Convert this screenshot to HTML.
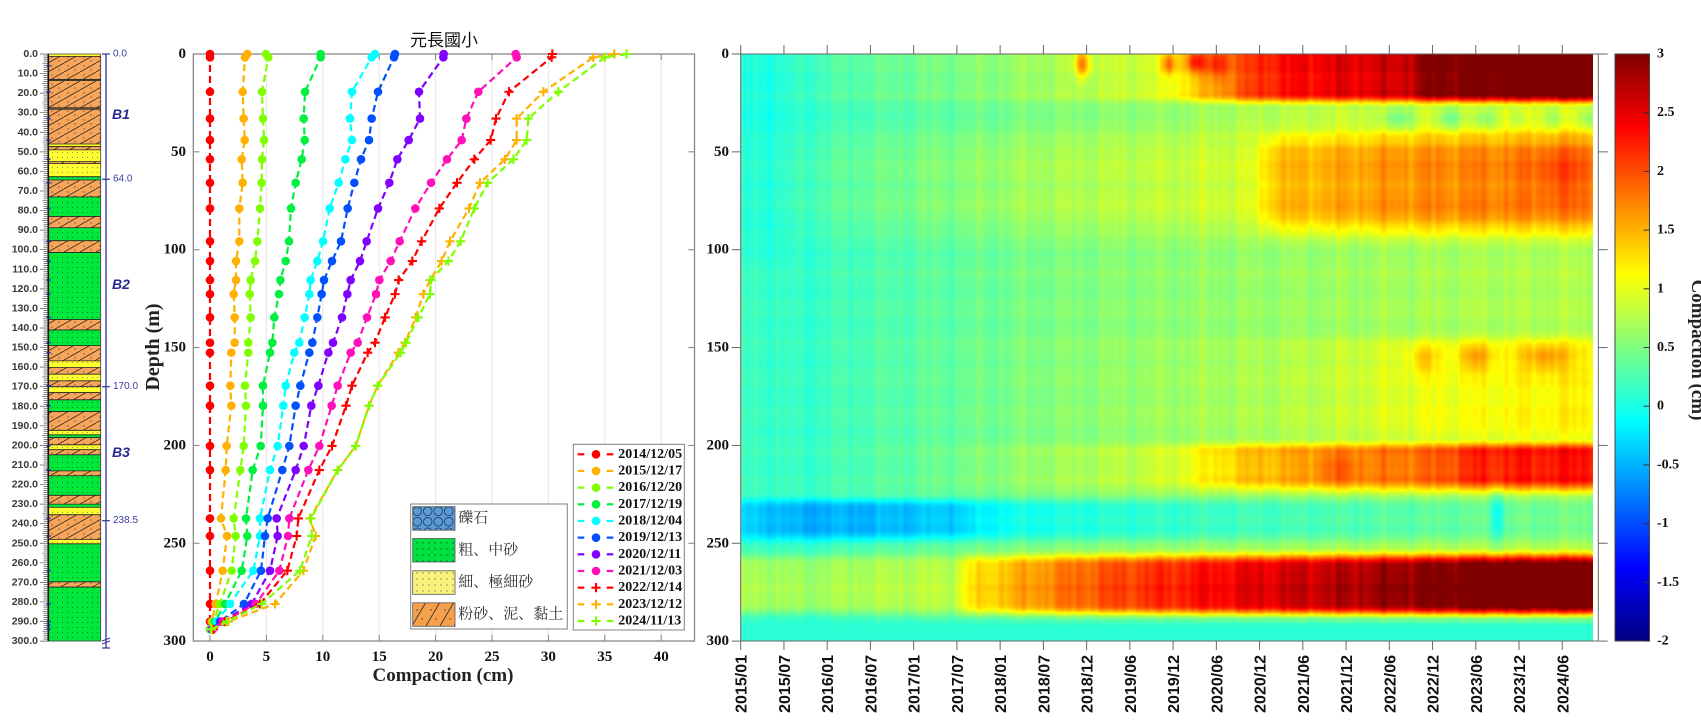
<!DOCTYPE html>
<html><head><meta charset="utf-8">
<style>
html,body{margin:0;padding:0;background:#fff;}
#wrap{position:relative;width:1701px;height:720px;overflow:hidden;background:#fff;}
#hm{position:absolute;left:741px;top:54px;width:852px;height:587px;}
#s{position:absolute;left:0;top:0;}
</style></head><body>
<div id="wrap">
<canvas id="hm" width="852" height="587"></canvas>
<svg id="s" width="1701" height="720" xmlns="http://www.w3.org/2000/svg">
<defs>
<pattern id="pS" patternUnits="userSpaceOnUse" width="16" height="9"><rect width="16" height="9" fill="#f7a55b"/><path d="M0,9 L16,0" stroke="#3b2a1a" stroke-width="0.8"/><circle cx="4" cy="3" r="0.6" fill="#333"/><circle cx="11" cy="7" r="0.6" fill="#333"/></pattern>
<pattern id="pG" patternUnits="userSpaceOnUse" width="5" height="5"><rect width="5" height="5" fill="#00e83c"/><circle cx="2.5" cy="2.5" r="0.55" fill="#064"/></pattern>
<pattern id="pY" patternUnits="userSpaceOnUse" width="5" height="5"><rect width="5" height="5" fill="#ffff30"/><circle cx="2.5" cy="2.5" r="0.55" fill="#775"/></pattern>
<pattern id="pO" patternUnits="userSpaceOnUse" width="5" height="5"><rect width="5" height="5" fill="#8d7b3c"/></pattern>
<pattern id="lS" patternUnits="userSpaceOnUse" width="14" height="24" x="412" y="602"><rect width="14" height="24" fill="#f7a04c"/><path d="M0,24 L14,0" stroke="#333" stroke-width="0.9"/><circle cx="5" cy="8" r="0.7" fill="#333"/><circle cx="10" cy="17" r="0.7" fill="#333"/></pattern>
<pattern id="lG" patternUnits="userSpaceOnUse" width="6" height="6"><rect width="6" height="6" fill="#00e040"/><circle cx="3" cy="3" r="0.7" fill="#063"/></pattern>
<pattern id="lY" patternUnits="userSpaceOnUse" width="6" height="6"><rect width="6" height="6" fill="#f8f27a"/><circle cx="3" cy="3" r="0.6" fill="#555"/></pattern>
<pattern id="lB" patternUnits="userSpaceOnUse" width="10.5" height="10.5" x="412" y="506"><rect width="10.5" height="10.5" fill="#5b9bd5"/><circle cx="5.25" cy="5.25" r="4.3" fill="none" stroke="#223a5a" stroke-width="0.8"/></pattern>
<linearGradient id="jet" x1="0" y1="1" x2="0" y2="0">
<stop offset="0" stop-color="#000080"/><stop offset="0.125" stop-color="#0000ff"/><stop offset="0.375" stop-color="#00ffff"/><stop offset="0.625" stop-color="#ffff00"/><stop offset="0.875" stop-color="#ff0000"/><stop offset="1" stop-color="#800000"/>
</linearGradient>
</defs>

<!-- left column -->
<g id="col"></g>
<g font-family="Liberation Sans, sans-serif" font-weight="bold" font-size="10.5" fill="#3a3a3a" text-anchor="end" dominant-baseline="central">
<text x="38" y="54">0.0</text><text x="38" y="73.6">10.0</text><text x="38" y="93.1">20.0</text><text x="38" y="112.7">30.0</text><text x="38" y="132.3">40.0</text><text x="38" y="151.9">50.0</text><text x="38" y="171.4">60.0</text><text x="38" y="191">70.0</text><text x="38" y="210.6">80.0</text><text x="38" y="230.1">90.0</text><text x="38" y="249.7">100.0</text><text x="38" y="269.3">110.0</text><text x="38" y="288.8">120.0</text><text x="38" y="308.4">130.0</text><text x="38" y="328">140.0</text><text x="38" y="347.6">150.0</text><text x="38" y="367.1">160.0</text><text x="38" y="386.7">170.0</text><text x="38" y="406.3">180.0</text><text x="38" y="425.8">190.0</text><text x="38" y="445.4">200.0</text><text x="38" y="465">210.0</text><text x="38" y="484.5">220.0</text><text x="38" y="504.1">230.0</text><text x="38" y="523.7">240.0</text><text x="38" y="543.3">250.0</text><text x="38" y="562.8">260.0</text><text x="38" y="582.4">270.0</text><text x="38" y="602">280.0</text><text x="38" y="621.5">290.0</text><text x="38" y="641.1">300.0</text>
</g>
<g font-family="Liberation Sans, sans-serif" font-size="10" fill="#3a3aa8" dominant-baseline="central">
<text x="113" y="54">0.0</text><text x="113" y="179.2">64.0</text><text x="113" y="386.7">170.0</text><text x="113" y="520.7">238.5</text>
</g>
<g font-family="Liberation Sans, sans-serif" font-size="14" font-weight="bold" font-style="italic" fill="#2a2a90" dominant-baseline="central">
<text x="112" y="114">B1</text><text x="112" y="284">B2</text><text x="112" y="452">B3</text>
</g>

<!-- middle chart -->
<g id="mid"></g>
<text x="444" y="46" text-anchor="middle" font-family="Liberation Sans, Noto Sans CJK TC, sans-serif" font-size="17" fill="#111">元長國小</text>
<g font-family="Liberation Serif, serif" font-weight="bold" font-size="15" fill="#111" text-anchor="end" dominant-baseline="central">
<text x="186" y="54">0</text><text x="186" y="151.9">50</text><text x="186" y="249.7">100</text><text x="186" y="347.6">150</text><text x="186" y="445.4">200</text><text x="186" y="543.3">250</text><text x="186" y="641.1">300</text>
</g>
<g font-family="Liberation Serif, serif" font-weight="bold" font-size="15" fill="#111" text-anchor="middle">
<text x="210" y="661">0</text><text x="266.4" y="661">5</text><text x="322.8" y="661">10</text><text x="379.2" y="661">15</text><text x="435.6" y="661">20</text><text x="492" y="661">25</text><text x="548.4" y="661">30</text><text x="604.8" y="661">35</text><text x="661.2" y="661">40</text>
</g>
<text x="443" y="681" text-anchor="middle" font-family="Liberation Serif, serif" font-weight="bold" font-size="19" fill="#222">Compaction (cm)</text>
<text transform="translate(159,347) rotate(-90)" text-anchor="middle" font-family="Liberation Serif, serif" font-weight="bold" font-size="20" fill="#222">Depth (m)</text>

<!-- lithology legend -->
<rect x="410.7" y="504" width="156.6" height="125" fill="#fff" stroke="#808080" stroke-width="1"/>
<rect x="412.7" y="506.7" width="42.3" height="23.5" fill="url(#lB)" stroke="#555" stroke-width="0.8"/>
<rect x="412.7" y="538.5" width="42.3" height="23.5" fill="url(#lG)" stroke="#555" stroke-width="0.8"/>
<rect x="412.7" y="570.8" width="42.3" height="23.5" fill="url(#lY)" stroke="#555" stroke-width="0.8"/>
<rect x="412.7" y="602.8" width="42.3" height="23.5" fill="url(#lS)" stroke="#555" stroke-width="0.8"/>
<g font-family="Liberation Serif, Noto Serif CJK SC, serif" font-size="15" fill="#333" dominant-baseline="central">
<text x="458.3" y="518.4">礫石</text>
<text x="458.3" y="550.3">粗、中砂</text>
<text x="458.3" y="582.5">細、極細砂</text>
<text x="458.3" y="614.6">粉砂、泥、黏土</text>
</g>

<!-- series legend -->
<rect x="573.3" y="444.3" width="111" height="185.7" fill="#fff" stroke="#808080" stroke-width="1"/>
<g id="leg"></g>
<g font-family="Liberation Serif, serif" font-weight="bold" font-size="14" fill="#111" dominant-baseline="central">
<text x="618.3" y="454.3">2014/12/05</text>
<text x="618.3" y="471">2015/12/17</text>
<text x="618.3" y="487.6">2016/12/20</text>
<text x="618.3" y="504.3">2017/12/19</text>
<text x="618.3" y="521">2018/12/04</text>
<text x="618.3" y="537.6">2019/12/13</text>
<text x="618.3" y="554.3">2020/12/11</text>
<text x="618.3" y="571">2021/12/03</text>
<text x="618.3" y="587.6">2022/12/14</text>
<text x="618.3" y="604.3">2023/12/12</text>
<text x="618.3" y="621">2024/11/13</text>
</g>

<!-- heatmap axes -->
<g id="hax"></g>
<g font-family="Liberation Serif, serif" font-weight="bold" font-size="15" fill="#111" text-anchor="end" dominant-baseline="central">
<text x="729" y="54">0</text><text x="729" y="151.9">50</text><text x="729" y="249.7">100</text><text x="729" y="347.6">150</text><text x="729" y="445.4">200</text><text x="729" y="543.3">250</text><text x="729" y="641.1">300</text>
</g>
<g font-family="Liberation Sans, sans-serif" font-weight="bold" font-size="16" fill="#111" text-anchor="end">
<text transform="translate(746.7,655) rotate(-90)">2015/01</text>
<text transform="translate(789.9,655) rotate(-90)">2015/07</text>
<text transform="translate(833.2,655) rotate(-90)">2016/01</text>
<text transform="translate(876.4,655) rotate(-90)">2016/07</text>
<text transform="translate(919.7,655) rotate(-90)">2017/01</text>
<text transform="translate(962.9,655) rotate(-90)">2017/07</text>
<text transform="translate(1006.1,655) rotate(-90)">2018/01</text>
<text transform="translate(1049.4,655) rotate(-90)">2018/07</text>
<text transform="translate(1092.6,655) rotate(-90)">2018/12</text>
<text transform="translate(1135.9,655) rotate(-90)">2019/06</text>
<text transform="translate(1179.1,655) rotate(-90)">2019/12</text>
<text transform="translate(1222.3,655) rotate(-90)">2020/06</text>
<text transform="translate(1265.6,655) rotate(-90)">2020/12</text>
<text transform="translate(1308.8,655) rotate(-90)">2021/06</text>
<text transform="translate(1352.1,655) rotate(-90)">2021/12</text>
<text transform="translate(1395.3,655) rotate(-90)">2022/06</text>
<text transform="translate(1438.5,655) rotate(-90)">2022/12</text>
<text transform="translate(1481.8,655) rotate(-90)">2023/06</text>
<text transform="translate(1525,655) rotate(-90)">2023/12</text>
<text transform="translate(1568.3,655) rotate(-90)">2024/06</text>
</g>

<!-- colorbar -->
<rect x="1615" y="54" width="34.5" height="587" fill="url(#jet)" stroke="#444" stroke-width="1"/>
<g id="cbt"></g>
<g font-family="Liberation Serif, serif" font-weight="bold" font-size="14" fill="#111" dominant-baseline="central">
<text x="1657" y="54">3</text><text x="1657" y="112.7">2.5</text><text x="1657" y="171.4">2</text><text x="1657" y="230.1">1.5</text><text x="1657" y="288.8">1</text><text x="1657" y="347.5">0.5</text><text x="1657" y="406.2">0</text><text x="1657" y="464.9">-0.5</text><text x="1657" y="523.6">-1</text><text x="1657" y="582.3">-1.5</text><text x="1657" y="641">-2</text>
</g>
<text transform="translate(1692,350) rotate(90)" text-anchor="middle" font-family="Liberation Serif, serif" font-weight="bold" font-size="19" fill="#222">Compaction (cm)</text>
</svg>
</div>
<script>
(function(){
var NS='http://www.w3.org/2000/svg';
function el(p,t,a){var e=document.createElementNS(NS,t);for(var k in a)e.setAttribute(k,a[k]);p.appendChild(e);return e;}
function Y(d){return 54+d*1.957;}

/* ---------- left column ---------- */
var col=document.getElementById('col');
var L=[[0,1.2,'Y'],[1.2,13,'S'],[13,13.6,'O'],[13.6,27.5,'S'],[27.5,28.2,'O'],[28.2,46,'S'],[46,47.3,'Y'],[47.3,49,'S'],[49,55,'Y'],[55,56,'S'],[56,62.7,'Y'],[62.7,64.4,'G'],[64.4,73,'S'],[73,83,'G'],[83,88.8,'S'],[88.8,95.4,'G'],[95.4,101.4,'S'],[101.4,135.7,'G'],[135.7,141,'S'],[141,149,'G'],[149,156.8,'S'],[156.8,160.2,'Y'],[160.2,163.6,'S'],[163.6,167,'Y'],[167,170,'S'],[170,173,'Y'],[173,176.7,'S'],[176.7,182.7,'G'],[182.7,192.3,'S'],[192.3,194.6,'Y'],[194.6,196,'G'],[196,199.7,'S'],[199.7,202.2,'Y'],[202.2,204.8,'S'],[204.8,213,'G'],[213,215.5,'S'],[215.5,225.5,'G'],[225.5,230,'S'],[230,231.6,'G'],[231.6,235.4,'Y'],[235.4,248.1,'S'],[248.1,250.3,'Y'],[250.3,269.7,'G'],[269.7,272.4,'S'],[272.4,300,'G']];
L.forEach(function(l){
  el(col,'rect',{x:48.3,y:Y(l[0]),width:52.4,height:Y(l[1])-Y(l[0])+0.2,fill:'url(#p'+l[2]+')'});
});
L.forEach(function(l,i){ if(i>0) el(col,'line',{x1:48.3,x2:100.7,y1:Y(l[0]),y2:Y(l[0]),stroke:'#222','stroke-width':0.8}); });
el(col,'rect',{x:48.3,y:54,width:52.4,height:587,fill:'none',stroke:'#444','stroke-width':0.8});
var pd='';
for(var d=0;d<=300;d++){var y=Y(d);var x0=(d%10==0)?40:(d%5==0?42.5:43.5);pd+='M'+x0+','+y.toFixed(2)+'L48.3,'+y.toFixed(2);}
el(col,'path',{d:pd,stroke:'#555','stroke-width':0.7,fill:'none'});
el(col,'line',{x1:48.3,x2:48.3,y1:54,y2:641,stroke:'#111','stroke-width':1.6});
[6,19.3,33,44,53.8,65.8,78.9,95.7,105.8,115.5,122.7,134.6,147.5,152.6,169.5,179.7,200.3,212.6,237.3,246.3,264,281,290,292,294].forEach(function(d){
  el(col,'line',{x1:46.5,x2:50.5,y1:Y(d),y2:Y(d),stroke:'#1a2aa0','stroke-width':1.6});
});
el(col,'line',{x1:106,x2:106,y1:54,y2:648,stroke:'#333399','stroke-width':1.3});
[0,64,170,238.5].forEach(function(d){el(col,'line',{x1:102,x2:110,y1:Y(d),y2:Y(d),stroke:'#333399','stroke-width':1.2});});
el(col,'line',{x1:102,x2:110,y1:648,y2:648,stroke:'#333399','stroke-width':1.2});
el(col,'path',{d:'M102,641 L110,638 M102,644 L110,641',stroke:'#333399','stroke-width':1,fill:'none'});

/* ---------- middle chart ---------- */
var mid=document.getElementById('mid');
var xt=[210,266.4,322.8,379.2,435.6,492,548.4,604.8,661.2];
xt.forEach(function(x,i){ if(i>0) el(mid,'line',{x1:x,x2:x,y1:54,y2:641,stroke:'#e6e6e6','stroke-width':1}); });
el(mid,'rect',{x:193.3,y:54,width:501.2,height:587,fill:'none',stroke:'#808080','stroke-width':1.2});
xt.forEach(function(x){el(mid,'line',{x1:x,x2:x,y1:641,y2:635,stroke:'#808080','stroke-width':1});el(mid,'line',{x1:x,x2:x,y1:54,y2:60,stroke:'#808080','stroke-width':1});});
for(var k=0;k<=6;k++){var yy=Y(k*50);el(mid,'line',{x1:193.3,x2:199.5,y1:yy,y2:yy,stroke:'#808080','stroke-width':1});el(mid,'line',{x1:694.5,x2:688.3,y1:yy,y2:yy,stroke:'#808080','stroke-width':1});}

var deps=[0,1.7,19.3,33,44,53.8,65.8,78.9,95.7,105.8,115.5,122.7,134.6,147.5,152.6,169.5,179.7,200.3,212.6,237.3,246.3,264,281,290,294];
var S=[
 ['#ff0000','o',[45,45,45,45,45,45,45,45,45,45,45,45,45,45,45,45,45,45,45,45,45,45,45,45,45]],
 ['#ffb000','o',[157,150,143,146,149,140,143,133,133,123,123,116,119,119,109,106,109,95,92,78,96,83,62,50,45]],
 ['#80ff00','o',[213,220,201,204,207,201,200,195,187,180,167,164,167,160,160,150,153,146,136,116,122,110,75,55,46]],
 ['#00f040','o',[377,377,330,326,329,320,302,288,282,272,256,252,238,232,225,204,204,197,173,153,157,140,90,60,47]],
 ['#00ffff','o',[540,530,471,465,471,451,431,404,384,367,347,343,329,313,298,272,265,248,225,195,195,175,105,65,48]],
 ['#0050ff','o',[600,597,549,530,522,498,478,458,438,411,387,380,367,352,343,316,302,283,262,218,210,198,147,75,50]],
 ['#8000ff','o',[746,745,672,675,641,607,583,549,515,495,467,457,441,414,400,370,349,326,302,245,248,225,170,80,52]],
 ['#ff10b8','o',[962,965,850,814,800,756,708,661,614,587,553,543,516,488,467,428,410,373,340,283,279,253,183,85,53]],
 ['#ff0000','+',[1072,1070,942,903,887,838,786,733,680,652,611,600,570,540,518,471,453,411,373,310,305,277,195,90,55]],
 ['#ffb000','+',[1258,1195,1045,965,965,930,855,822,765,740,706,685,662,630,610,548,522,482,428,345,362,325,240,100,50]],
 ['#80ff00','+',[1295,1230,1090,1000,995,955,878,838,797,760,708,705,670,633,617,548,522,482,428,348,350,315,200,95,48]]
];
function marker(p,x,y,c,m){
  if(m=='o') el(p,'circle',{cx:x,cy:y,r:4.3,fill:c});
  else el(p,'path',{d:'M'+(x-4.6)+','+y+'H'+(x+4.6)+'M'+x+','+(y-4.6)+'V'+(y+4.6),stroke:c,'stroke-width':2.1,fill:'none'});
}
S.forEach(function(s){
  var pts=s[2].map(function(zx,i){return [195+zx/3,Y(deps[i])];});
  el(mid,'polyline',{points:pts.map(function(p){return p[0].toFixed(1)+','+p[1].toFixed(1);}).join(' '),fill:'none',stroke:s[0],'stroke-width':2.2,'stroke-dasharray':'7,4'});
  pts.forEach(function(p){marker(mid,p[0],p[1],s[0],s[1]);});
});
var leg=document.getElementById('leg');
S.forEach(function(s,i){
  var y=454.3+16.67*i;
  el(leg,'line',{x1:577.7,x2:584.3,y1:y,y2:y,stroke:s[0],'stroke-width':2.2});
  el(leg,'line',{x1:606.7,x2:613.3,y1:y,y2:y,stroke:s[0],'stroke-width':2.2});
  marker(leg,596,y,s[0],s[1]);
});

/* ---------- heatmap axes ---------- */
var hax=document.getElementById('hax');
el(hax,'rect',{x:740.7,y:54,width:857.6,height:587,fill:'none',stroke:'#666','stroke-width':1});
for(var i=0;i<20;i++){var x=740.7+43.24*i;
  el(hax,'line',{x1:x,x2:x,y1:641,y2:650,stroke:'#666','stroke-width':1});
  el(hax,'line',{x1:x,x2:x,y1:54,y2:45,stroke:'#666','stroke-width':1});}
for(var k=0;k<=6;k++){var yy=Y(k*50);
  el(hax,'line',{x1:740.7,x2:731.7,y1:yy,y2:yy,stroke:'#666','stroke-width':1});
  el(hax,'line',{x1:1598.3,x2:1607.7,y1:yy,y2:yy,stroke:'#666','stroke-width':1});}
var cbt=document.getElementById('cbt');
for(var k=0;k<=10;k++){var yy=54+58.7*k;el(cbt,'line',{x1:1649.5,x2:1643.5,y1:yy,y2:yy,stroke:'#333','stroke-width':1});}

/* ---------- heatmap ---------- */
function pl(a,T){if(T<=a[0][0])return a[0][1];for(var i=1;i<a.length;i++){if(T<=a[i][0]){var p=a[i-1],q=a[i];return p[1]+(q[1]-p[1])*(T-p[0])/(q[0]-p[0]);}}return a[a.length-1][1];}
function ss(e0,e1,x){var t=(x-e0)/(e1-e0);t=t<0?0:t>1?1:t;return t*t*(3-2*t);}
function plat(d,a,b,c,e){return ss(a,b,d)*(1-ss(c,e,d));}
var BT=[[0,0.0],[0.5,0.03],[1.0,0.18],[1.5,0.25],[2.5,0.35],[3.5,0.48],[4.5,0.55],[5.5,0.6],[7,0.65],[8,0.7],[9.9,0.75]];
var A1=[[0,0],[1.5,0.1],[3,0.15],[4,0.25],[4.8,0.35],[5.3,0.8],[5.8,1.35],[6.05,1.6],[6.5,1.75],[7,1.85],[7.6,1.9],[8.0,2.3],[9.9,2.5]];
var A2=[[0,0.05],[1.5,0.15],[3,0.2],[5,0.25],[5.9,0.3],[6.15,0.8],[7,0.9],[8,1.0],[9.9,1.05]];
var A2b=[[0,0],[5,0.05],[6,0.15],[8,0.3],[9.9,0.35]];
var A3=[[0,0],[4,0.05],[6,0.1],[7,0.2],[8,0.35],[9.9,0.45]];
var A4=[[0,0],[2,0.05],[4.5,0.25],[5,0.35],[5.5,0.65],[6,0.85],[7,1.0],[8,1.2],[8.5,1.5],[9.9,1.6]];
var A5=[[0,-0.5],[0.6,-0.65],[1.5,-0.75],[2.5,-0.7],[3,-0.5],[4,-0.48],[5,-0.45],[7,-0.4],[9.9,-0.3]];
var A6=[[0,0.55],[2.45,0.45],[2.65,0.85],[3.0,1.0],[3.5,1.2],[4,1.4],[5,1.65],[6,1.9],[7,2.1],[8,2.3],[8.5,2.45],[9.9,2.5]];
var blobs=[[3.95,5,1.0,0.06,5],[4.95,5,0.8,0.06,4],[5.25,4,0.9,0.08,4],[5.5,5,0.6,0.1,5],
 [7.6,33,-0.45,0.15,4],[8.2,33,-0.5,0.12,4],[8.6,33,-0.45,0.1,4],[9.0,33,-0.3,0.06,4],[9.4,33,-0.35,0.1,4],[9.8,33,-0.4,0.1,4],
 [8.5,155,0.5,0.15,5],[9.3,155,0.5,0.2,5],[7.9,156,0.4,0.12,5],[8.75,236,-0.45,0.05,10],[6.9,212,0.3,0.2,6],[9.5,60,0.25,0.25,10]];
var cv=document.getElementById('hm');var W=852,H=587;var ctx=cv.getContext('2d');
var img=ctx.createImageData(W,H);var D=img.data;
var cT=[],cB=[],c1=[],c2=[],c2b=[],c3=[],c4=[],c5=[],c6=[],cn=[],ce=[];
for(var x=0;x<W;x++){var T=(x+0.5)/86.48;cT.push(T);cB.push(pl(BT,T));c1.push(pl(A1,T));c2.push(pl(A2,T));c2b.push(pl(A2b,T));c3.push(pl(A3,T));c4.push(pl(A4,T));c5.push(pl(A5,T));c6.push(pl(A6,T));
 cn.push(0.05*Math.sin(2*Math.PI*T*1.9+0.7)+0.04*Math.sin(2*Math.PI*T*4.3+2.1)+0.035*Math.sin(2*Math.PI*T*7.7+0.3)+0.025*Math.sin(2*Math.PI*T*11.3+1.7));
 ce.push(1-ss(0.3,0.9,T));}
var r1=[],r2=[],r2b=[],r3=[],r4=[],r5=[],r6=[],r7=[],rE=[],rn=[],rd=[];
for(var y=0;y<H;y++){var d=(y+0.5)/1.9567;rd.push(d);
 r1.push(plat(d,-10,-5,20,28));r2.push(plat(d,36,50,80,100));r2b.push(plat(d,25,30,40,46));r3.push(plat(d,140,152,192,202));r4.push(plat(d,196,203,217,227));
 r5.push(plat(d,225,232,243,252));r6.push(plat(d,252,262,282,289));r7.push(ss(286,293,d));rE.push(0.15*ss(80,120,d));rn.push(0.05*Math.sin(d*0.35)+0.03*Math.sin(d*0.9+1));}
function jet(v){var t=(v+2)/5;t=t<0?0:t>1?1:t;
 function c(z){return z<0?0:z>1?1:z;}
 return [c(Math.min(4*t-1.5,-4*t+4.5))*255,c(Math.min(4*t-0.5,-4*t+3.5))*255,c(Math.min(4*t+0.5,-4*t+2.5))*255];}
for(var y=0;y<H;y++){var d=rd[y];
 for(var x=0;x<W;x++){var T=cT[x];
  var v=cB[x]+rE[y]*ce[x]+r1[y]*c1[x]+r2[y]*c2[x]+r2b[y]*c2b[x]+r3[y]*c3[x]+r4[y]*c4[x]+r5[y]*c5[x]+r6[y]*c6[x];
  for(var b=0;b<blobs.length;b++){var B=blobs[b];var dt=(T-B[0])/B[3],dd=(d-B[1])/B[4];var q=dt*dt+dd*dd;if(q<9)v+=B[2]*Math.exp(-0.5*q);}
  v+=(cn[x]+rn[y]*0.6)*(0.7+0.25*Math.abs(v));
  v=v*(1-r7[y])+0.08*r7[y];
  var c=jet(v);var i4=(y*W+x)*4;D[i4]=c[0];D[i4+1]=c[1];D[i4+2]=c[2];D[i4+3]=255;}}
ctx.putImageData(img,0,0);
})();
</script>
</body></html>
